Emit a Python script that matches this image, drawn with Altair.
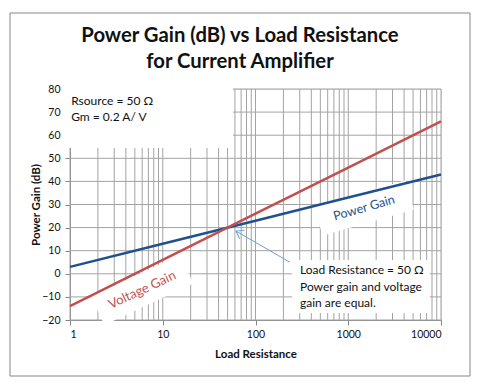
import altair as alt
import pandas as pd

# ---- data ----
load_r = [1, 10, 100, 1000, 10000]
power_gain_db = [3, 13, 23, 33, 43]
voltage_gain_db = [-14, 6, 26, 46, 66]

x_major = [1, 10, 100, 1000, 10000]
x_grid = [1, 2, 3, 4, 5, 6, 7, 8, 9,
          10, 20, 30, 40, 50, 60, 70, 80, 90,
          100, 200, 300, 400, 500, 600, 700, 800, 900,
          1000, 2000, 3000, 4000, 5000, 6000, 7000, 8000, 9000,
          10000]
y_ticks = [-20, -10, 0, 10, 20, 30, 40, 50, 60, 70, 80]

title_lines = ["Power Gain (dB) vs Load Resistance", "for Current Amplifier"]
x_title = "Load Resistance"
y_title = "Power Gain (dB)"
series_names = ["Power Gain", "Voltage Gain"]
note_tl = ["Rsource = 50 Ω", "Gm = 0.2 A/ V"]
note_box = ["Load Resistance = 50 Ω", "Power gain and voltage", "gain are equal."]

# ---- annotation placement (data coordinates) ----
tl_box = dict(x0=0.86, x1=57.2, y0=54.5, y1=81)
note_rect = dict(x0=247, x1=7600, y0=-17, y1=6)
tl_text_x, tl_text_y = [1.03, 1.03], [74.8, 67.9]
note_x, note_y = [302, 302, 302], [1.6, -5.7, -12.8]
pg_label = dict(x=1479, y=28.5)
vg_label = dict(x=6.0, y=-7.0)
arrow = dict(x0=235, y0=5.0, x1=61.6, y1=18.5)

FONT = "Lato"
GRID = "#a3a3a3"
AXIS = "#868686"
BLUE = "#21508f"
RED = "#c0504d"
ARROW = "#6f9fd6"

XS = alt.Scale(type="log", domain=[1, 10000], nice=False)
YS = alt.Scale(domain=[-20, 80], nice=False, zero=False)

XA = alt.Axis(
    values=x_major, format="d", title=x_title, grid=False, zindex=0,
    domainColor=AXIS, tickColor=AXIS, tickSize=5, labelFont=FONT, labelFontSize=10.5,
    labelColor="#111", labelPadding=4, titleFont=FONT, titleFontSize=11.5,
    titleFontWeight="bold", titleColor="#111", titleY=34, titleBaseline="middle")
YA = alt.Axis(
    values=y_ticks, title=y_title, grid=False, zindex=0,
    domainColor=AXIS, tickColor=AXIS, tickSize=5, labelFont=FONT, labelFontSize=10.5,
    labelColor="#111", labelPadding=5, titleFont=FONT, titleFontSize=11.5,
    titleFontWeight="bold", titleColor="#111", titleX=-34, titleY=115.5,
    titleAngle=270, titleAlign="center", titleBaseline="middle")


def X(field):
    return alt.X(field, type="quantitative", scale=XS, axis=XA)


def Y(field):
    return alt.Y(field, type="quantitative", scale=YS, axis=YA)


one = pd.DataFrame({"a": [0]})

frame = alt.Chart(one).mark_rect(fillOpacity=0, stroke="#878787", strokeWidth=1).encode(
    x=alt.value(-60), x2=alt.value(400), y=alt.value(-76), y2=alt.value(287)
)

title = alt.Chart(one).mark_text(
    font=FONT, fontSize=20.3, fontWeight="bold", color="#111", align="center",
    baseline="middle", lineHeight=26
).encode(x=alt.value(170), y=alt.value(-53), text=alt.value(title_lines))

vgrid = alt.Chart(pd.DataFrame({"R": x_grid})).mark_rule(color=GRID, strokeWidth=1).encode(
    x=X("R")
)

hgrid = alt.Chart(pd.DataFrame({"v": y_ticks})).mark_rule(color=GRID, strokeWidth=1).encode(
    y=Y("v")
)

boxes = alt.Chart(pd.DataFrame({
    "x0": [tl_box["x0"], note_rect["x0"]], "x1": [tl_box["x1"], note_rect["x1"]],
    "y0": [tl_box["y0"], note_rect["y0"]], "y1": [tl_box["y1"], note_rect["y1"]],
})).mark_rect(color="white").encode(
    x=X("x0"), x2="x1:Q", y=Y("y0"), y2="y1:Q",
)

RECT_PATH = "M -1 -0.32 L 1 -0.32 L 1 0.32 L -1 0.32 Z"

pg_box = alt.Chart(pd.DataFrame({"x": [pg_label["x"]], "y": [pg_label["y"]]})).mark_point(
    shape=RECT_PATH, filled=True, fill="white", opacity=1, strokeWidth=0, size=9025, angle=344
).encode(x=X("x"), y=Y("y"))

vg_box = alt.Chart(pd.DataFrame({"x": [vg_label["x"]], "y": [vg_label["y"]]})).mark_point(
    shape=RECT_PATH, filled=True, fill="white", opacity=1, strokeWidth=0, size=9604, angle=335
).encode(x=X("x"), y=Y("y"))

lines_df = pd.DataFrame({
    "R": load_r + load_r,
    "gain": power_gain_db + voltage_gain_db,
    "series": [series_names[0]] * len(load_r) + [series_names[1]] * len(load_r),
})
lines = alt.Chart(lines_df).mark_line(strokeWidth=2.5).encode(
    x=X("R"), y=Y("gain"),
    color=alt.Color("series:N", scale=alt.Scale(domain=series_names, range=[BLUE, RED]), legend=None),
)

arrow_line = alt.Chart(pd.DataFrame({"x0": [arrow["x0"]], "y0": [arrow["y0"]],
                                     "x1": [arrow["x1"]], "y1": [arrow["y1"]]})).mark_rule(
    color=ARROW, strokeWidth=1).encode(x=X("x0"), x2="x1:Q", y=Y("y0"), y2="y1:Q")

arrow_head = alt.Chart(pd.DataFrame({"x": [arrow["x1"]], "y": [arrow["y1"]]})).mark_point(
    shape="M -0.7 1 L 0 0 L 0.7 1", filled=False, stroke=ARROW, strokeWidth=1, opacity=1,
    size=196, angle=300).encode(x=X("x"), y=Y("y"))

tl_text = alt.Chart(pd.DataFrame({"x": tl_text_x, "y": tl_text_y, "t": note_tl})).mark_text(
    align="left", baseline="middle", font=FONT, fontSize=12, color="#111").encode(
    x=X("x"), y=Y("y"), text="t:N")

note_text = alt.Chart(pd.DataFrame({"x": note_x, "y": note_y, "t": note_box})).mark_text(
    align="left", baseline="middle", font=FONT, fontSize=12, color="#111").encode(
    x=X("x"), y=Y("y"), text="t:N")

pg_text = alt.Chart(pd.DataFrame({"x": [pg_label["x"]], "y": [pg_label["y"]], "t": ["Power  Gain"]})).mark_text(
    align="center", baseline="middle", font=FONT, fontSize=12.5, color=BLUE, angle=344).encode(
    x=X("x"), y=Y("y"), text="t:N")

vg_text = alt.Chart(pd.DataFrame({"x": [vg_label["x"]], "y": [vg_label["y"]], "t": ["Voltage Gain"]})).mark_text(
    align="center", baseline="middle", font=FONT, fontSize=13, color=RED, angle=335).encode(
    x=X("x"), y=Y("y"), text="t:N")

chart = alt.layer(
    frame, title, vgrid, hgrid, boxes, pg_box, vg_box, lines, arrow_line, arrow_head,
    tl_text, note_text, pg_text, vg_text
).properties(
    width=371, height=231,
    autosize=alt.AutoSizeParams(type="none"),
    padding={"left": 62, "top": 81, "right": 30, "bottom": 58},
).configure_view(stroke=None).configure(background="white")

chart.save("out.html", embed_options={"renderer": "svg", "actions": False})
